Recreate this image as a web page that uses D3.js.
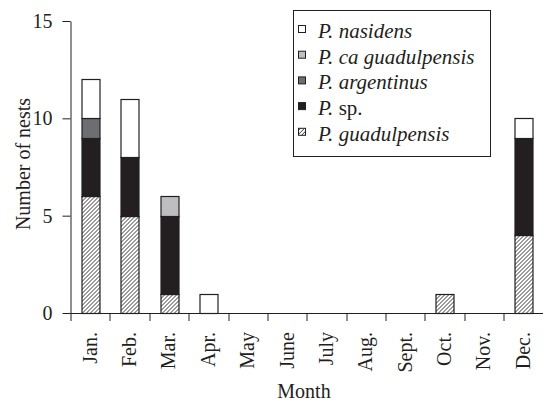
<!DOCTYPE html>
<html>
<head>
<meta charset="utf-8">
<script src="https://cdn.jsdelivr.net/npm/d3@7"></script>
<style>
  body { margin: 0; background: #fff; }
  svg text { font-family: "Liberation Serif", "DejaVu Serif", serif !important; fill: #231f20; }
</style>
</head>
<body>
<svg id="chart" width="546" height="407"></svg>
<script>
const months = ["Jan.", "Feb.", "Mar.", "Apr.", "May", "June", "July", "Aug.", "Sept.", "Oct.", "Nov.", "Dec."]

// stack order, bottom to top
const speciesKeys = ["guadulpensis", "sp", "argentinus", "caGuadulpensis", "nasidens"]

const guadulpensis   = [6, 5, 1, 0, 0, 0, 0, 0, 0, 1, 0, 4]
const sp             = [3, 3, 4, 0, 0, 0, 0, 0, 0, 0, 0, 5]
const argentinus     = [1, 0, 0, 0, 0, 0, 0, 0, 0, 0, 0, 0]
const caGuadulpensis = [0, 0, 1, 0, 0, 0, 0, 0, 0, 0, 0, 0]
const nasidens       = [2, 3, 0, 1, 0, 0, 0, 0, 0, 0, 0, 1]

const yTicks = [0, 5, 10, 15]

// legend goes top to bottom
const legendItems = [
    { key: "nasidens", genus: "P.", name: " nasidens", italic: true },
    { key: "caGuadulpensis", genus: "P.", name: " ca guadulpensis", italic: true },
    { key: "argentinus", genus: "P.", name: " argentinus", italic: true },
    { key: "sp", genus: "P.", name: " sp.", italic: false },
    { key: "guadulpensis", genus: "P.", name: " guadulpensis", italic: true },
]

const fills = {
    nasidens: "#ffffff",
    caGuadulpensis: "#bcbec0",
    argentinus: "#6d6e71",
    sp: "#231f20",
    guadulpensis: "url(#hatch)",
}

const serif = "'Liberation Serif', 'DejaVu Serif', serif"

const table = months.map((m, i) => ({
    month: m,
    guadulpensis: guadulpensis[i],
    sp: sp[i],
    argentinus: argentinus[i],
    caGuadulpensis: caGuadulpensis[i],
    nasidens: nasidens[i],
}))

const svg = d3.select("#chart")
const margin = { top: 21, right: 3, bottom: 94, left: 70.5 }
const width = +svg.attr("width") - margin.left - margin.right
const height = +svg.attr("height") - margin.top - margin.bottom

const defs = svg.append("defs")
const hatch = defs.append("pattern")
    .attr("id", "hatch")
    .attr("patternUnits", "userSpaceOnUse")
    .attr("width", 4)
    .attr("height", 4)
hatch.append("rect").attr("width", 4).attr("height", 4).attr("fill", "#fff")
hatch.append("path")
    .attr("d", "M-1,1 l2,-2 M0,4 l4,-4 M3,5 l2,-2")
    .attr("stroke", "#231f20")
    .attr("stroke-width", 0.9)

const focus = svg.append("g").attr("transform", "translate(" + margin.left + "," + margin.top + ")")

const x = d3.scaleBand()
    .domain(months)
    .range([0, width])
    .paddingInner(0.55)
    .paddingOuter(0.275)

const y = d3.scaleLinear()
    .domain([0, 15])
    .range([height, 0])

const stack = d3.stack().keys(speciesKeys)
const series = stack(table)

focus.append("g")
    .selectAll("g")
    .data(series)
    .join("g")
    .attr("fill", d => fills[d.key])
    .selectAll("rect")
    .data(d => d.filter(p => p[1] - p[0] > 0))
    .join("rect")
    .attr("x", d => Math.round(x(d.data.month)) + 0.5)
    .attr("y", d => Math.round(y(d[1])) + 0.5)
    .attr("width", Math.round(x.bandwidth()))
    .attr("height", d => Math.round(y(d[0])) - Math.round(y(d[1])))
    .attr("stroke", "#231f20")
    .attr("stroke-width", 1.2)

// y axis
const yAxis = focus.append("g")
    .call(d3.axisLeft(y).tickValues(yTicks).tickSize(8).tickPadding(10))
    .attr("font-family", serif)
yAxis.select(".domain").attr("stroke", "#231f20").attr("d", "M0.5," + (height + 0.5) + "V0.5")
yAxis.selectAll(".tick line").attr("stroke", "#231f20")
yAxis.selectAll(".tick text")
    .attr("font-size", 20)
    .attr("fill", "#231f20")

// x axis: ticks sit between months
const xAxis = focus.append("g").attr("transform", "translate(0," + height + ")")
xAxis.append("line")
    .attr("x1", 0).attr("x2", width)
    .attr("y1", 0.5).attr("y2", 0.5)
    .attr("stroke", "#231f20")
const boundaries = months.map(m => x(m) - x.step() * x.paddingInner() / 2)
xAxis.selectAll(".bound")
    .data(boundaries)
    .join("line")
    .attr("class", "bound")
    .attr("x1", d => Math.round(d) + 0.5)
    .attr("x2", d => Math.round(d) + 0.5)
    .attr("y1", 0)
    .attr("y2", 8)
    .attr("stroke", "#231f20")
xAxis.selectAll(".mlabel")
    .data(months)
    .join("text")
    .attr("class", "mlabel")
    .attr("transform", d => "translate(" + (x(d) + x.bandwidth() / 2 + 6.5) + ",19) rotate(-90)")
    .attr("text-anchor", "end")
    .attr("font-family", serif)
    .attr("font-size", 20)
    .text(d => d)

// axis titles
svg.append("text")
    .attr("x", 304)
    .attr("y", 398)
    .attr("text-anchor", "middle")
    .attr("font-family", serif)
    .attr("font-size", 20)
    .text("Month")

svg.append("text")
    .attr("transform", "translate(30,164) rotate(-90)")
    .attr("text-anchor", "middle")
    .attr("font-family", serif)
    .attr("font-size", 20)
    .text("Number of nests")

// legend
const legend = svg.append("g")
legend.append("rect")
    .attr("x", 293.5).attr("y", 10.5)
    .attr("width", 197).attr("height", 146)
    .attr("fill", "#fff")
    .attr("stroke", "#231f20")

const rows = legend.selectAll(".lrow")
    .data(legendItems)
    .join("g")
    .attr("class", "lrow")
    .attr("transform", (d, i) => "translate(298," + (32 + i * 25.7) + ")")

rows.append("rect")
    .attr("x", 0.5).attr("y", -6.5)
    .attr("width", 7).attr("height", 7)
    .attr("fill", d => fills[d.key])
    .attr("stroke", "#231f20")

const labels = rows.append("text")
    .attr("x", 20)
    .attr("y", 6)
    .attr("font-family", serif)
    .attr("font-size", 21)
labels.append("tspan").style("font-style", "italic").text(d => d.genus)
labels.append("tspan").style("font-style", d => d.italic ? "italic" : "normal").text(d => d.name)
</script>
</body>
</html>
